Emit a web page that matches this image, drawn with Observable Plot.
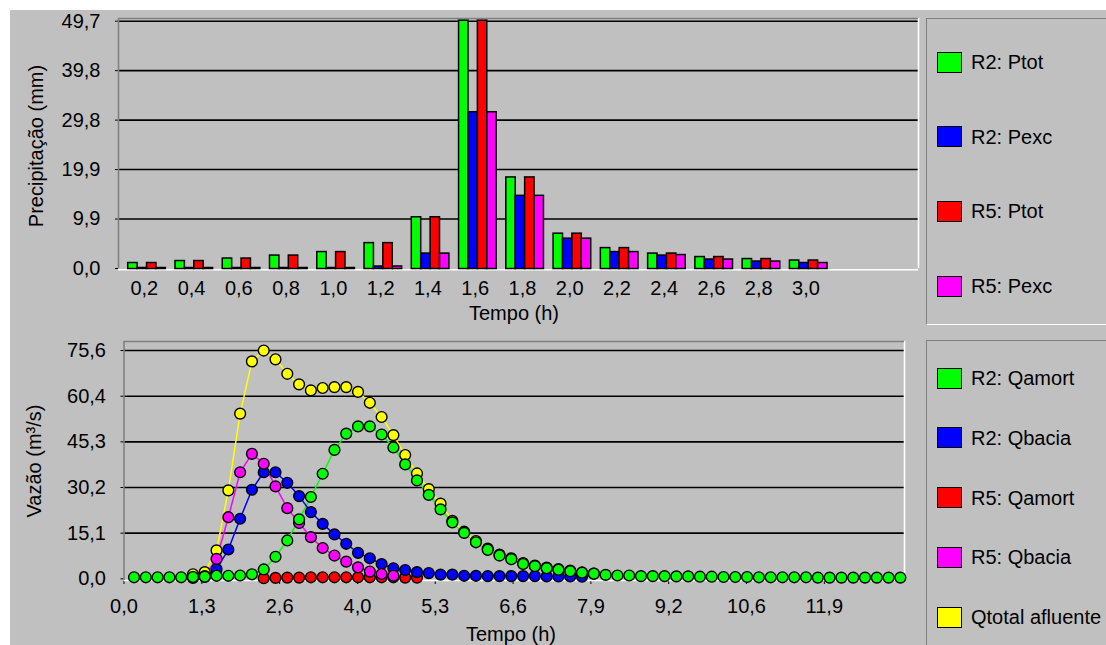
<!DOCTYPE html>
<html><head><meta charset="utf-8">
<script src="https://cdn.jsdelivr.net/npm/d3@7"></script>
<script src="https://cdn.jsdelivr.net/npm/@observablehq/plot@0.6"></script>
<style>
html,body{margin:0;padding:0;background:#fff;}
#root{position:relative;width:1106px;height:645px;overflow:hidden;background:#fff;font-family:"Liberation Sans",Arial,sans-serif;color:#000;}
#panel{position:absolute;left:10px;top:10px;width:1096px;height:635px;background:#c0c0c0;}
.chart{position:absolute;}
.lbl{position:absolute;font-size:20px;white-space:nowrap;line-height:1;}
.vlbl{position:absolute;font-size:20px;white-space:nowrap;line-height:1;transform:translate(-50%,-50%) rotate(-90deg);}
.legend{position:absolute;background:#c0c0c0;border-left:1.5px solid #808080;border-top:1.5px solid #808080;border-bottom:1.5px solid #fff;box-sizing:border-box;}
.sw{position:absolute;width:25px;height:21px;border:1.5px solid #000;box-sizing:border-box;}
.lt{position:absolute;font-size:20px;white-space:nowrap;line-height:1;transform:translateY(-50%);}
</style></head><body>
<div id="root"><div id="panel"></div></div>
<script>
// ---------- Precipitation (top) ----------
const topTimes = [0.2,0.4,0.6,0.8,1.0,1.2,1.4,1.6,1.8,2.0,2.2,2.4,2.6,2.8,3.0];
const topTimeLabels = ["0,2","0,4","0,6","0,8","1,0","1,2","1,4","1,6","1,8","2,0","2,2","2,4","2,6","2,8","3,0"];
const r2Ptot = [1.0,1.4,1.9,2.5,3.2,5.0,10.2,49.7,18.2,6.9,4.0,2.9,2.2,1.8,1.5];
const r2Pexc = [0,0,0,0,0,0.3,2.9,31.3,14.5,5.9,3.2,2.5,1.7,1.3,1.0];
const r5Ptot = [1.0,1.4,1.9,2.5,3.2,5.0,10.2,49.7,18.2,6.9,4.0,2.9,2.2,1.8,1.5];
const r5Pexc = [0,0,0,0,0,0.3,2.9,31.3,14.5,5.9,3.2,2.6,1.7,1.3,1.0];
const precipTicks = [0,9.94,19.88,29.82,39.76,49.7];
const precipTickLabels = ["0,0","9,9","19,9","29,8","39,8","49,7"];
const precipNames = ["R2: Ptot","R2: Pexc","R5: Ptot","R5: Pexc"];
const precipColors = ["#00ff00","#0000ff","#ff0000","#ff00ff"];

// ---------- Discharge (bottom) ----------
const flowT0 = 0.17, flowStep = 0.2;
const r2QamortStart = 0;
const r2Qamort = [0.5,0.5,0.5,0.5,0.5,0.6,0.7,1.0,1.0,1.1,1.5,3.1,7.3,12.7,19.7,27.1,34.8,42.7,48.1,50.5,50.5,47.8,43.5,37.9,32.6,27.8,23.0,18.7,15.2,12.1,9.6,7.7,6.5,4.9,4.2,3.5,3.0,2.5,2.0,1.7,1.3,1.1,
  1.1,0.9,0.9,0.9,0.8,0.8,0.7,0.7,0.6,0.6,0.6,0.5,0.5,0.5,0.5,0.5,0.4,0.4,0.4,0.4,0.4,0.4,0.4,0.4];
const r2QbaciaStart = 5;
const r2Qbacia = [0.3,0.6,3.2,9.7,19.9,29.5,35.3,35.3,31.8,27.4,22.1,18.2,14.7,11.6,8.6,6.8,4.9,3.5,2.9,2.2,1.9,1.4,1.4,1.0,1.0,0.9,0.9,0.9,0.9,0.9,0.8,0.8,0.8,0.7];
const r5QamortStart = 11;
const r5Qamort = [0.2,0.3,0.4,0.4,0.5,0.5,0.5,0.5,0.5,0.5,0.5,0.5,0.4,0.4];
const r5QbaciaStart = 5;
const r5Qbacia = [0.5,0.9,6.6,20.4,35.3,41.4,38.1,30.6,23.4,18.5,13.8,10.2,7.7,5.7,3.8,2.4,1.6,1.0];
const qtotalStart = 5;
const qtotal = [1.5,2.2,9.4,29.3,54.7,72.0,75.6,72.7,67.9,64.4,62.4,63.2,63.5,63.5,61.9,58.3,53.6,47.6,41.0,34.9,29.7,24.9,19.2,15.6,12.5,10.0,8.0,6.8,5.2,4.4,3.7,3.2,2.7,2.1,1.7];
const flowXTicks = [0,1.32,2.64,3.96,5.28,6.6,7.92,9.24,10.56,11.88];
const flowXTickLabels = ["0,0","1,3","2,6","4,0","5,3","6,6","7,9","9,2","10,6","11,9"];
const flowYTicks = [0,15.12,30.24,45.36,60.48,75.6];
const flowYTickLabels = ["0,0","15,1","30,2","45,3","60,4","75,6"];
const flowNames = ["R2: Qamort","R2: Qbacia","R5: Qamort","R5: Qbacia","Qtotal afluente"];
const flowColors = ["#00ff00","#0000ff","#ff0000","#ff00ff","#ffff00"];

const root = document.getElementById("root");
const FONT = '"Liberation Sans", Arial, sans-serif';

function place(el, left, top) {
  const d = document.createElement("div");
  d.className = "chart"; d.style.left = left + "px"; d.style.top = top + "px";
  d.appendChild(el); root.appendChild(d);
}
function label(text, cls, x, y, center) {
  const d = document.createElement("div");
  d.className = cls; d.textContent = text;
  d.style.left = x + "px"; d.style.top = y + "px";
  if (center) d.style.transform = "translate(-50%,-50%)";
  root.appendChild(d);
}

// ---- top chart ----
const precipSeries = [r2Ptot, r2Pexc, r5Ptot, r5Pexc];
const barRows = precipSeries.flatMap((vals, j) => vals.map((v, i) => ({t: topTimes[i], j, v, name: precipNames[j]})));
const barW = 0.0398, barShift = 0.0115;
const topXFmt = new Map(topTimes.map((t, i) => [t, topTimeLabels[i]]));
const topYFmt = new Map(precipTicks.map((t, i) => [t, precipTickLabels[i]]));
const topX = [0.0908, 3.476], topY = [0, 50.24];

const topPlot = Plot.plot({
  width: 912, height: 315,
  marginLeft: 108, marginRight: 4, marginTop: 8, marginBottom: 57,
  style: {background: "#c0c0c0", fontFamily: FONT, fontSize: "20px", color: "#000", overflow: "visible"},
  x: {domain: topX, ticks: topTimes, tickFormat: d => topXFmt.get(d), tickSize: 0, tickPadding: 12, label: null},
  y: {domain: topY, ticks: precipTicks, tickFormat: d => topYFmt.get(d), tickSize: 3, tickPadding: 15, label: null},
  color: {domain: precipNames, range: precipColors},
  marks: [
    Plot.ruleY(precipTicks.slice(1), {stroke: "#000", strokeWidth: 1.6}),
    Plot.ruleY([topY[0]], {stroke: "#fff", strokeWidth: 1.6, dy: 1.2}),
    Plot.ruleX([topX[1]], {stroke: "#fff", strokeWidth: 1.6}),
    Plot.ruleX([topX[0]], {stroke: "#808080", strokeWidth: 1.6}),
    Plot.ruleY([topY[1]], {stroke: "#808080", strokeWidth: 1.6}),
    Plot.rect(barRows, {
      x1: d => d.t + barShift + (d.j - 2) * barW,
      x2: d => d.t + barShift + (d.j - 1) * barW,
      y1: 0, y2: "v", fill: "name", stroke: "#000", strokeWidth: 1.5,
      insetTop: -0.5, insetBottom: -0.5
    })
  ]
});
place(topPlot, 10, 10);

// ---- bottom chart ----
function rows(vals, start, name) {
  return vals.map((v, i) => ({t: flowT0 + (start + i) * flowStep, v, name}));
}
const flowRows = {
  "R2: Qamort": rows(r2Qamort, r2QamortStart, flowNames[0]),
  "R2: Qbacia": rows(r2Qbacia, r2QbaciaStart, flowNames[1]),
  "R5: Qamort": rows(r5Qamort, r5QamortStart, flowNames[2]),
  "R5: Qbacia": rows(r5Qbacia, r5QbaciaStart, flowNames[3]),
  "Qtotal afluente": rows(qtotal, qtotalStart, flowNames[4])
};
const lineOrder = ["R2: Qamort","R2: Qbacia","R5: Qamort","R5: Qbacia","Qtotal afluente"];
const dotOrder = ["Qtotal afluente","R5: Qamort","R2: Qbacia","R5: Qbacia","R2: Qamort"];
const botXFmt = new Map(flowXTicks.map((t, i) => [t, flowXTickLabels[i]]));
const botYFmt = new Map(flowYTicks.map((t, i) => [t, flowYTickLabels[i]]));
const botX = [0, 13.24], botY = [-0.56, 78.6];

const botPlot = Plot.plot({
  width: 900, height: 315,
  marginLeft: 113.5, marginRight: 6, marginTop: 11, marginBottom: 65,
  style: {background: "#c0c0c0", fontFamily: FONT, fontSize: "20px", color: "#000", overflow: "visible"},
  x: {domain: botX, ticks: flowXTicks, tickFormat: d => botXFmt.get(d), tickSize: 4, tickPadding: 14, label: null},
  y: {domain: botY, ticks: flowYTicks, tickFormat: d => botYFmt.get(d), tickSize: 3, tickPadding: 15, label: null},
  color: {domain: flowNames, range: flowColors},
  marks: [
    Plot.ruleY(flowYTicks.slice(1), {stroke: "#000", strokeWidth: 1.6}),
    Plot.ruleY([botY[0]], {stroke: "#fff", strokeWidth: 1.6}),
    Plot.ruleX([botX[1]], {stroke: "#fff", strokeWidth: 1.6}),
    Plot.ruleX([botX[0]], {stroke: "#808080", strokeWidth: 1.6}),
    Plot.ruleY([botY[1]], {stroke: "#808080", strokeWidth: 1.6}),
    ...lineOrder.map(n => Plot.line(flowRows[n], {x: "t", y: "v", stroke: "name", strokeWidth: 1.5})),
    ...dotOrder.map(n => Plot.dot(flowRows[n], {x: "t", y: "v", fill: "name", stroke: "#000", strokeWidth: 1.4, r: 5.4}))
  ]
});
place(botPlot, 10, 330);

// ---- axis titles ----
label("Tempo (h)", "lbl", 514, 313, true);
label("Tempo (h)", "lbl", 511, 634, true);
label("Precipitação (mm)", "vlbl", 36, 146, false);
label("Vazão (m³/s)", "vlbl", 34, 461, false);

// ---- legends ----
function legend(names, colors, boxTop, boxHeight, firstY, stepY) {
  const box = document.createElement("div");
  box.className = "legend";
  box.style.left = "926px"; box.style.top = boxTop + "px";
  box.style.width = "200px"; box.style.height = boxHeight + "px";
  root.appendChild(box);
  names.forEach((n, i) => {
    const cy = firstY + i * stepY;
    const sw = document.createElement("div");
    sw.className = "sw"; sw.style.background = colors[i];
    sw.style.left = "937px"; sw.style.top = (cy - 10.5) + "px";
    root.appendChild(sw);
    const t = document.createElement("div");
    t.className = "lt"; t.textContent = n;
    t.style.left = "971px"; t.style.top = cy + "px";
    root.appendChild(t);
  });
}
legend(precipNames, precipColors, 18, 307, 62, 74.7);
legend(flowNames, flowColors, 340, 320, 378, 59.8);
</script>
</body></html>
